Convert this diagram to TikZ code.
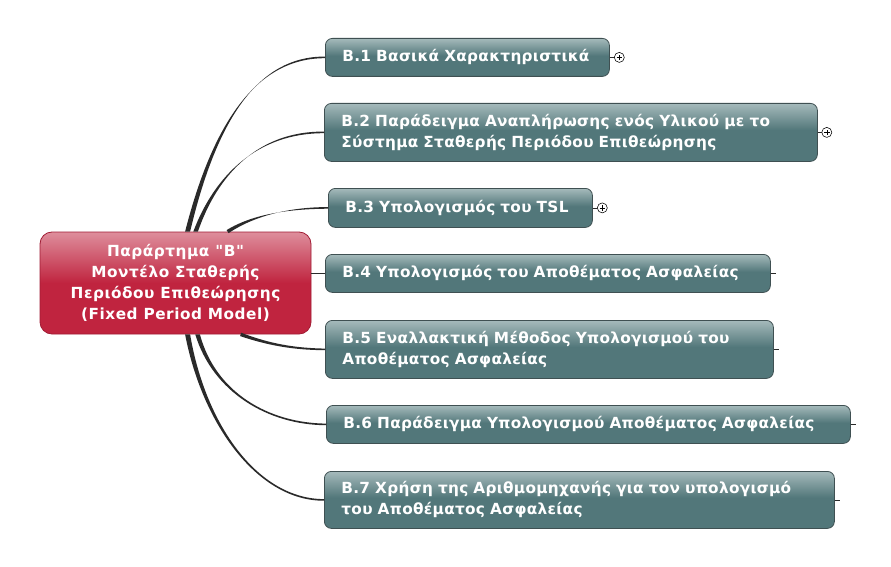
\documentclass[tikz,border=0pt]{standalone}
\usepackage{fontspec}
\setmainfont{DejaVu Sans}
\newfontfamily\boxfont{DejaVu Sans}[LetterSpace=2]
\newfontfamily\cenfont{DejaVu Sans}[LetterSpace=3.5]
\usetikzlibrary{calc}
\definecolor{tealL}{HTML}{A5BABB}
\definecolor{tealD}{HTML}{52777A}
\definecolor{tealB}{HTML}{3F5052}
\definecolor{redL}{HTML}{DE8E9C}
\definecolor{redD}{HTML}{C0243F}
\definecolor{redB}{HTML}{A11C34}
\definecolor{linkc}{HTML}{2A2A2A}
\pgfdeclareverticalshading{tealsh}{100bp}{color(0bp)=(tealD); color(25bp)=(tealD); color(52bp)=(tealD); color(75bp)=(tealL); color(100bp)=(tealL)}
\pgfdeclareverticalshading{redsh}{100bp}{color(0bp)=(redD); color(25bp)=(redD); color(50bp)=(redD); color(75bp)=(redL); color(100bp)=(redL)}
\newcommand\taper[5]{%
  \fill[linkc] ($(#1)+(#5)$) .. controls ($(#2)+0.6*(#5)$) and ($(#3)+(0,-1.0)$) .. ($(#4)+(0,-0.8)$)
    -- ($(#4)+(0,0.8)$) .. controls ($(#3)+(0,1.0)$) and ($(#2)-0.6*(#5)$) .. ($(#1)-(#5)$) -- cycle;}
\tikzset{
  topic/.style={draw=tealB, line width=0.8pt, rounded corners=7pt, shading=tealsh, anchor=north west,
    text=white, font=\boxfont\bfseries\fontsize{15.3}{21}\selectfont, inner xsep=17pt, align=left},
  central/.style={draw=redB, line width=0.8pt, rounded corners=12pt, shading=redsh,
    text=white, font=\cenfont\bfseries\fontsize{15.3}{21}\selectfont, align=center},
  plusc/.style={draw=black, circle, line width=0.55pt, minimum size=10pt, inner sep=0pt, fill=white,
    path picture={\draw[line width=0.6pt] ([xshift=-2.8pt]path picture bounding box.center) -- ([xshift=2.8pt]path picture bounding box.center);
      \draw[line width=0.6pt] ([yshift=-2.8pt]path picture bounding box.center) -- ([yshift=2.8pt]path picture bounding box.center);}},
  stub/.style={line width=0.7pt, draw=linkc}
}
\begin{document}
\begin{tikzpicture}[x=1pt,y=-1pt]
\useasboundingbox[fill=white] (0,0) rectangle (891,567);
\node[central, minimum width=271pt, minimum height=102pt] (c) at (175.5,283)
  {Παράρτημα \symbol{34}B\symbol{34}\\Μοντέλο Σταθερής\\Περιόδου Επιθεώρησης\\(Fixed Period Model)};
\node[topic, minimum width=284pt, minimum height=38pt, text width=250pt] (b1) at (325,38) {B.1 Βασικά Χαρακτηριστικά};
\node[topic, minimum width=493pt, minimum height=58pt, text width=459pt] (b2) at (324,103) {B.2 Παράδειγμα Αναπλήρωσης ενός Υλικού με το\\Σύστημα Σταθερής Περιόδου Επιθεώρησης};
\node[topic, minimum width=264pt, minimum height=39pt, text width=230pt] (b3) at (328,188) {B.3 Υπολογισμός του TSL};
\node[topic, minimum width=445pt, minimum height=38pt, text width=411pt] (b4) at (325,254) {B.4 Υπολογισμός του Αποθέματος Ασφαλείας};
\node[topic, minimum width=448pt, minimum height=58pt, text width=414pt] (b5) at (325,320) {B.5 Εναλλακτική Μέθοδος Υπολογισμού του\\Αποθέματος Ασφαλείας};
\node[topic, minimum width=524pt, minimum height=38pt, text width=490pt] (b6) at (326,405) {B.6 Παράδειγμα Υπολογισμού Αποθέματος Ασφαλείας};
\node[topic, minimum width=510pt, minimum height=57pt, text width=476pt] (b7) at (324,471) {B.7 Χρήση της Αριθμομηχανής για τον υπολογισμό\\του Αποθέματος Ασφαλείας};
% start points on the central node
\coordinate (s1) at ($(c.north west)+(148,0)$);
\coordinate (s2) at ($(c.north west)+(156,0)$);
\coordinate (s3) at ($(c.north west)+(188,0)$);
\coordinate (s5) at ($(c.south west)+(201,0)$);
\coordinate (s6) at ($(c.south west)+(158,0)$);
\coordinate (s7) at ($(c.south west)+(148,0)$);
\taper{s1}{215,120}{258,57}{b1.west}{2.5,0}
\taper{s2}{216,175}{258,132}{b2.west}{2.3,0}
\taper{s3}{255,214}{292,208}{b3.west}{1.0,1.5}
\draw[line width=1.5pt, draw=linkc] (c.east |- b4.west) -- (b4.west);
\taper{s5}{270,345}{295,349}{b5.west}{0.5,-1.7}
\taper{s6}{214,392}{268,424}{b6.west}{2.3,0}
\taper{s7}{204,425}{258,500}{b7.west}{2.5,0}
% expanders and stubs
\node[plusc] (p1) at ($(b1.east)+(9.5,0)$) {};
\node[plusc] (p2) at ($(b2.east)+(9,0)$) {};
\node[plusc] (p3) at ($(b3.east)+(9.5,0)$) {};
\draw[stub] (b1.east) -- (p1.west);
\draw[stub] (b2.east) -- (p2.west);
\draw[stub] (b3.east) -- (p3.west);
\coordinate (e4) at ($(b4.east)+(5,0)$);
\coordinate (e5) at ($(b5.east)+(5,0)$);
\coordinate (e6) at ($(b6.east)+(5,0)$);
\coordinate (e7) at ($(b7.east)+(5,0)$);
\draw[stub] (b4.east) -- (e4);
\draw[stub] (b5.east) -- (e5);
\draw[stub] (b6.east) -- (e6);
\draw[stub] (b7.east) -- (e7);
\end{tikzpicture}
\end{document}
